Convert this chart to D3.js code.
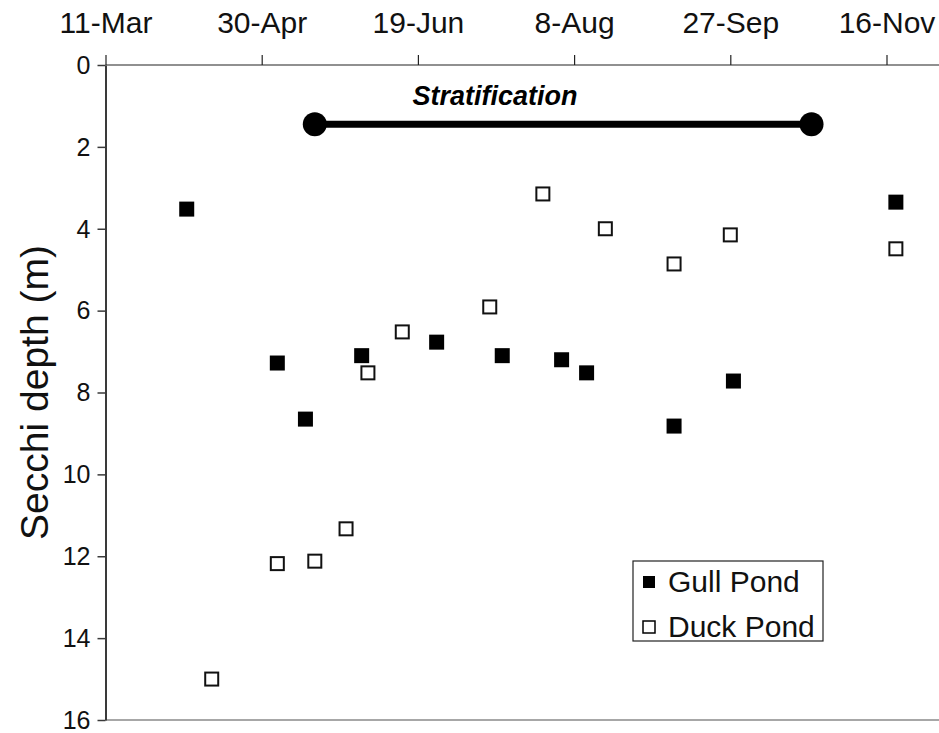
<!DOCTYPE html>
<html>
<head>
<meta charset="utf-8">
<script src="https://cdn.jsdelivr.net/npm/d3@7"></script>
<style>
  html, body { margin: 0; padding: 0; background: #fff; }
  svg { display: block; font-family: "Liberation Sans", Arial, sans-serif; }
</style>
</head>
<body>
<svg id="chart" width="939" height="733"></svg>
<script>
// Sampling dates and Secchi depths (m) for the two ponds
const gullDates  = ["2001-04-06", "2001-05-05", "2001-05-14", "2001-06-01", "2001-06-25", "2001-07-16",
                    "2001-08-04", "2001-08-12", "2001-09-09", "2001-09-28", "2001-11-19"];
const gullDepths = [3.52, 7.28, 8.65, 7.1, 6.77, 7.1, 7.2, 7.52, 8.82, 7.72, 3.35];

const duckDates  = ["2001-04-14", "2001-05-05", "2001-05-17", "2001-05-27", "2001-06-03", "2001-06-14",
                    "2001-07-12", "2001-07-29", "2001-08-18", "2001-09-09", "2001-09-27", "2001-11-19"];
const duckDepths = [15.0, 12.18, 12.12, 11.33, 7.52, 6.52, 5.91, 3.15, 4.0, 4.86, 4.15, 4.49];

// Stratification period and the depth at which its bar is drawn
const stratDates = ["2001-05-17", "2001-10-23"];
const stratDepth = 1.45;

// Axis ticks
const xTickDates = ["2001-03-11", "2001-04-30", "2001-06-19", "2001-08-08", "2001-09-27", "2001-11-16"];
const yTicks = [0, 2, 4, 6, 8, 10, 12, 14, 16];

const parse = d3.utcParse("%Y-%m-%d");
const fmt = d3.utcFormat("%-d-%b");

const svg = d3.select("#chart");
const plotLeft = 105.5, plotRight = 886.5, plotTop = 65, plotBottom = 720, frameEnd = 939;

const x = d3.scaleUtc()
  .domain([parse(xTickDates[0]), parse(xTickDates[xTickDates.length - 1])])
  .range([plotLeft, plotRight]);
const y = d3.scaleLinear().domain([0, 16]).range([plotTop, plotBottom]);

// bottom frame line
svg.append("line")
  .attr("x1", plotLeft).attr("x2", frameEnd)
  .attr("y1", plotBottom).attr("y2", plotBottom)
  .attr("stroke", "#8a8a8a").attr("stroke-width", 1.5);

// top date axis
const xAxis = svg.append("g")
  .attr("transform", `translate(0,${plotTop})`)
  .call(d3.axisTop(x).tickValues(xTickDates.map(parse)).tickFormat(fmt).tickSize(10).tickSizeOuter(0));
xAxis.select(".domain").remove();
xAxis.selectAll(".tick line").attr("stroke", "#222").attr("stroke-width", 1.2);
xAxis.selectAll(".tick text")
  .attr("y", -32)
  .attr("font-size", 30)
  .attr("fill", "#111");
svg.append("line")
  .attr("x1", plotLeft).attr("x2", frameEnd)
  .attr("y1", plotTop).attr("y2", plotTop)
  .attr("stroke", "#222").attr("stroke-width", 1.2);

// left depth axis
const yAxis = svg.append("g")
  .attr("transform", `translate(${plotLeft},0)`)
  .call(d3.axisLeft(y).tickValues(yTicks).tickSize(8).tickSizeOuter(0));
yAxis.select(".domain").attr("stroke", "#3a3a3a").attr("stroke-width", 2);
yAxis.selectAll(".tick line").attr("stroke", "#3a3a3a").attr("stroke-width", 1.5);
yAxis.selectAll(".tick text")
  .attr("x", -15)
  .attr("dy", "0.33em")
  .attr("font-size", 25)
  .attr("fill", "#111");

// y-axis title
svg.append("text")
  .attr("transform", `translate(48,${(plotTop + plotBottom) / 2}) rotate(-90)`)
  .attr("text-anchor", "middle")
  .attr("font-size", 39)
  .attr("fill", "#111")
  .text("Secchi depth (m)");

// stratification bar
const s0 = x(parse(stratDates[0])), s1 = x(parse(stratDates[1]));
svg.append("line")
  .attr("x1", s0).attr("x2", s1)
  .attr("y1", y(stratDepth)).attr("y2", y(stratDepth))
  .attr("stroke", "#000").attr("stroke-width", 7);
svg.selectAll("circle.strat")
  .data(stratDates)
  .join("circle")
  .attr("class", "strat")
  .attr("cx", d => x(parse(d)))
  .attr("cy", y(stratDepth))
  .attr("r", 12)
  .attr("fill", "#000");
svg.append("text")
  .attr("x", 495).attr("y", y(stratDepth) - 19.5)
  .attr("text-anchor", "middle")
  .attr("font-size", 27)
  .attr("font-weight", "bold")
  .attr("font-style", "italic")
  .text("Stratification");

// data points
const gull = gullDates.map((d, i) => ({ date: parse(d), depth: gullDepths[i] }));
const duck = duckDates.map((d, i) => ({ date: parse(d), depth: duckDepths[i] }));
const sz = 15;

svg.append("g").selectAll("rect")
  .data(duck)
  .join("rect")
  .attr("x", d => x(d.date) - sz / 2 + 1)
  .attr("y", d => y(d.depth) - sz / 2 + 1)
  .attr("width", sz - 2).attr("height", sz - 2)
  .attr("fill", "#fff")
  .attr("stroke", "#111").attr("stroke-width", 2);

svg.append("g").selectAll("rect")
  .data(gull)
  .join("rect")
  .attr("x", d => x(d.date) - sz / 2)
  .attr("y", d => y(d.depth) - sz / 2)
  .attr("width", sz).attr("height", sz)
  .attr("fill", "#000");

// legend
const lg = svg.append("g").attr("transform", "translate(633,561)");
lg.append("rect")
  .attr("width", 190).attr("height", 80)
  .attr("fill", "#fff").attr("stroke", "#222").attr("stroke-width", 1.2);
const legendItems = [
  { label: "Gull Pond", filled: true },
  { label: "Duck Pond", filled: false }
];
legendItems.forEach((it, i) => {
  const cy = 21 + i * 45;
  lg.append("rect")
    .attr("x", 10).attr("y", cy - 6)
    .attr("width", 12).attr("height", 12)
    .attr("fill", it.filled ? "#000" : "#fff")
    .attr("stroke", "#000").attr("stroke-width", it.filled ? 0 : 1.5);
  lg.append("text")
    .attr("x", 35).attr("y", cy + 10)
    .attr("font-size", 30)
    .attr("fill", "#111")
    .text(it.label);
});
</script>
</body>
</html>
